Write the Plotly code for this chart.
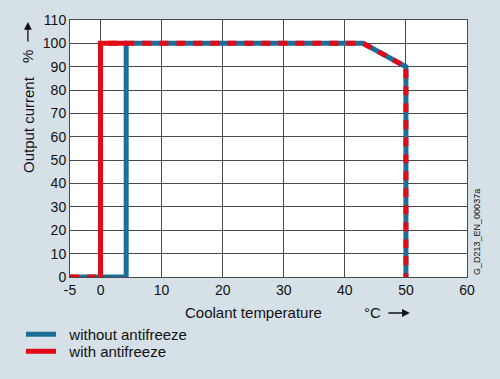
import plotly.graph_objects as go

# Data
x_ticks = [-5, 0, 10, 20, 30, 40, 50, 60]
y_ticks = [0, 10, 20, 30, 40, 50, 60, 70, 80, 90, 100, 110]

without_x = [-5, 4.2, 4.2, 43, 50, 50]
without_y = [0, 0, 100, 100, 90, 0]

with_x = [-5, 0, 0, 43, 50, 50]
with_y = [0, 0, 100, 100, 90, 0]

# segment where only the red curve runs (drawn solid)
with_only_x = [0, 0, 4.2]
with_only_y = [0, 100, 100]

BLUE = "#1b6e98"
RED = "#e30a17"
BG = "#d6e0e7"
GRID = "#4a4a4a"
FONT = "Liberation Sans, Arial, sans-serif"
PAD = "\u00a0\u00a0"

fig = go.Figure()
fig.add_trace(go.Scatter(x=without_x, y=without_y, mode="lines", name=PAD + "without antifreeze",
                         line=dict(color=BLUE, width=5), showlegend=True, legend="legend"))
fig.add_trace(go.Scatter(x=with_x, y=with_y, mode="lines", name="with antifreeze dashed",
                         line=dict(color=RED, width=5, dash="9px,8px"), showlegend=False))
fig.add_trace(go.Scatter(x=with_only_x, y=with_only_y, mode="lines", name=PAD + "with antifreeze",
                         line=dict(color=RED, width=5), showlegend=True, legend="legend2"))

leg_common = dict(xref="container", yref="container", xanchor="left", yanchor="top",
                  bgcolor="rgba(0,0,0,0)", font=dict(size=15), itemwidth=30)

fig.update_layout(
    width=500, height=379,
    margin=dict(l=70, r=33, t=20, b=102, autoexpand=False),
    paper_bgcolor=BG, plot_bgcolor="white",
    font=dict(family=FONT, size=14, color="#111"),
    xaxis=dict(range=[-5, 60], tickvals=x_ticks, ticktext=[str(v) for v in x_ticks],
               showgrid=True, gridcolor=GRID, gridwidth=1, zeroline=False,
               showline=True, linecolor=GRID, linewidth=1, mirror=True,
               ticks="", tickfont=dict(size=14), automargin=False),
    yaxis=dict(range=[0, 110], tickvals=y_ticks, ticktext=[str(v) for v in y_ticks],
               showgrid=True, gridcolor=GRID, gridwidth=1, zeroline=False,
               showline=True, linecolor=GRID, linewidth=1, mirror=True,
               ticks="", tickfont=dict(size=14), automargin=False),
    legend=dict(x=0.042, y=0.161, **leg_common),
    legend2=dict(x=0.042, y=0.116, **leg_common),
    showlegend=True,
)

ann = [
    dict(text="Output current", xref="paper", yref="paper", x=-0.106, y=0.595,
         textangle=-90, showarrow=False, font=dict(size=15), xanchor="center", yanchor="middle"),
    dict(text="%", xref="paper", yref="paper", x=-0.106, y=0.86,
         textangle=-90, showarrow=False, font=dict(size=15), xanchor="center", yanchor="middle"),
    dict(text="", xref="paper", yref="paper", x=-0.106, y=0.992, ax=0, ay=21,
         showarrow=True, arrowhead=2, arrowsize=1.2, arrowwidth=1.3, arrowcolor="#111"),
    dict(text="Coolant temperature", xref="paper", yref="paper", x=0.461, y=-0.14,
         showarrow=False, font=dict(size=15), xanchor="center", yanchor="middle"),
    dict(text="°C", xref="paper", yref="paper", x=0.761, y=-0.14,
         showarrow=False, font=dict(size=15), xanchor="center", yanchor="middle"),
    dict(text="", xref="paper", yref="paper", x=0.856, y=-0.14, ax=-23, ay=0,
         showarrow=True, arrowhead=2, arrowsize=1.2, arrowwidth=1.3, arrowcolor="#111"),
    dict(text="G_D213_EN_00037a", xref="paper", yref="paper", x=1.025, y=0.0,
         textangle=-90, showarrow=False, font=dict(size=9), xanchor="center", yanchor="bottom"),
]
fig.update_layout(annotations=ann)

fig.write_html("out.html", config={"displayModeBar": False},
               post_script="document.body.style.margin='0';")
